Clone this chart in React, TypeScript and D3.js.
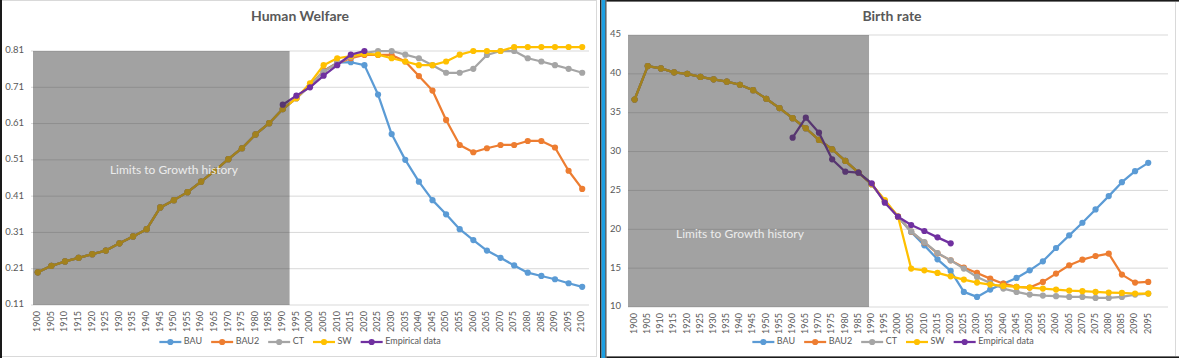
import React from 'react';
import * as d3 from 'd3';

const FONT = "Lato, 'Open Sans', 'Liberation Sans', sans-serif";

// ---------- categories ----------
const YEARS = [1900, 1905, 1910, 1915, 1920, 1925, 1930, 1935, 1940, 1945, 1950, 1955, 1960, 1965, 1970, 1975, 1980, 1985, 1990, 1995, 2000, 2005, 2010, 2015, 2020, 2025, 2030, 2035, 2040, 2045, 2050, 2055, 2060, 2065, 2070, 2075, 2080, 2085, 2090, 2095, 2100];
const HIST_YEARS = [1900, 1905, 1910, 1915, 1920, 1925, 1930, 1935, 1940, 1945, 1950, 1955, 1960, 1965, 1970, 1975, 1980, 1985, 1990];
const HW_SCEN_YEARS = [1995, 2000, 2005, 2010, 2015, 2020, 2025, 2030, 2035, 2040, 2045, 2050, 2055, 2060, 2065, 2070, 2075, 2080, 2085, 2090, 2095, 2100];
const BR_SCEN_YEARS = [1995, 2000, 2005, 2010, 2015, 2020, 2025, 2030, 2035, 2040, 2045, 2050, 2055, 2060, 2065, 2070, 2075, 2080, 2085, 2090, 2095];
const HW_TICK_LABELS = ["1900", "1905", "1910", "1915", "1920", "1925", "1930", "1935", "1940", "1945", "1950", "1955", "1960", "1965", "1970", "1975", "1980", "1985", "1990", "1995", "2000", "2005", "2010", "2015", "2020", "2025", "2030", "2035", "2040", "2045", "2050", "2055", "2060", "2065", "2070", "2075", "2080", "2085", "2090", "2095", "2100"];
const BR_TICK_LABELS = ["1900", "1905", "1910", "1915", "1920", "1925", "1930", "1935", "1940", "1945", "1950", "1955", "1960", "1965", "1970", "1975", "1980", "1985", "1990", "1995", "2000", "2005", "2010", "2015", "2020", "2025", "2030", "2035", "2040", "2045", "2050", "2055", "2060", "2065", "2070", "2075", "2080", "2085", "2090", "2095", ""];

const SERIES_NAMES = ["BAU", "BAU2", "CT", "SW", "Empirical data"];
const SERIES_COLORS = ["#5B9BD5", "#ED7D31", "#A5A5A5", "#FFC000", "#7030A0"];

// ---------- Human Welfare ----------
const HW_TICKS = [0.11, 0.21, 0.31, 0.41, 0.51, 0.61, 0.71, 0.81];
const HW_HISTORY = [0.20, 0.218, 0.230, 0.240, 0.250, 0.260, 0.280, 0.299, 0.319, 0.379, 0.399, 0.421, 0.450, 0.480, 0.512, 0.542, 0.580, 0.611, 0.650];
const HW_BAU = [0.680, 0.715, 0.755, 0.778, 0.779, 0.771, 0.690, 0.581, 0.510, 0.450, 0.399, 0.360, 0.319, 0.289, 0.260, 0.240, 0.219, 0.199, 0.190, 0.181, 0.170, 0.160];
const HW_BAU2 = [0.680, 0.715, 0.755, 0.776, 0.790, 0.799, 0.799, 0.799, 0.781, 0.741, 0.701, 0.620, 0.551, 0.531, 0.542, 0.551, 0.551, 0.562, 0.562, 0.544, 0.480, 0.430];
const HW_CT = [0.680, 0.715, 0.753, 0.776, 0.794, 0.805, 0.810, 0.810, 0.800, 0.790, 0.771, 0.750, 0.750, 0.761, 0.799, 0.810, 0.810, 0.790, 0.781, 0.771, 0.761, 0.750];
const HW_SW = [0.680, 0.721, 0.771, 0.790, 0.796, 0.802, 0.800, 0.790, 0.781, 0.771, 0.771, 0.781, 0.800, 0.810, 0.810, 0.810, 0.821, 0.821, 0.821, 0.821, 0.821, 0.821];
const HW_EMP_YEARS = [1990, 1995, 2000, 2005, 2010, 2015, 2020];
const HW_EMP = [0.662, 0.687, 0.710, 0.742, 0.771, 0.800, 0.810];

// ---------- Birth rate ----------
const BR_TICKS = [10, 15, 20, 25, 30, 35, 40, 45];
const BR_HISTORY = [36.7, 41.0, 40.7, 40.2, 40.0, 39.6, 39.3, 39.0, 38.6, 37.9, 36.8, 35.6, 34.3, 33.0, 31.5, 30.3, 28.8, 27.3, 25.8];
const BR_BAU = [23.6, 21.6, 19.65, 17.93, 16.14, 14.64, 11.94, 11.3, 12.24, 13.0, 13.74, 14.72, 15.88, 17.59, 19.22, 20.84, 22.55, 24.27, 26.06, 27.48, 28.55];
const BR_BAU2 = [23.6, 21.6, 19.7, 18.3, 16.9, 16.0, 15.07, 14.38, 13.65, 13.0, 12.58, 12.5, 13.23, 14.3, 15.37, 16.09, 16.56, 16.86, 14.17, 13.14, 13.23];
const BR_CT = [23.6, 21.6, 19.73, 18.36, 16.95, 16.0, 14.94, 13.87, 13.1, 12.37, 11.94, 11.6, 11.47, 11.39, 11.3, 11.3, 11.17, 11.17, 11.3, 11.6, 11.73];
const BR_SW = [23.77, 21.66, 14.94, 14.72, 14.38, 13.95, 13.53, 13.14, 12.88, 12.71, 12.58, 12.5, 12.37, 12.24, 12.11, 12.03, 11.94, 11.86, 11.81, 11.73, 11.73];
const BR_EMP_YEARS = [1960, 1965, 1970, 1975, 1980, 1985, 1990, 1995, 2000, 2005, 2010, 2015, 2020];
const BR_EMP = [31.79, 34.36, 32.43, 29.0, 27.41, 27.28, 25.92, 23.42, 21.62, 20.55, 19.78, 18.96, 18.19];

type Pt = [number, number];
const zip = (xs: number[], ys: number[]): Pt[] => xs.map((x, i) => [x, ys[i]] as Pt);

function buildSeries(hist: number[], scenYears: number[], scen: number[][], empYears: number[], emp: number[]): Pt[][] {
  const out = scen.map((s) => zip(HIST_YEARS, hist).concat(zip(scenYears, s)));
  out.push(zip(empYears, emp));
  return out;
}

const measureCtx: CanvasRenderingContext2D | null =
  typeof document !== 'undefined' ? document.createElement('canvas').getContext('2d') : null;
function textW(s: string, size: number): number {
  if (!measureCtx) return s.length * size * 0.5;
  measureCtx.font = `${size}px ${FONT}`;
  return measureCtx.measureText(s).width;
}

interface Cfg {
  title: string;
  titleX: number;
  left: number;
  right: number;
  top: number;
  bottom: number;
  yDomain: [number, number];
  yTicks: number[];
  yFmt: (v: number) => string;
  tickLabels: string[];
  series: Pt[][];
  histStartPad: number;
  histEndYear: number;
  histEndFrac: number;
  noteYear: number;
  noteValue: number;
  legendCx: number;
  legendY: number;
}

function Chart({ cfg }: { cfg: Cfg }) {
  const x = d3.scaleBand<number>().domain(YEARS).range([cfg.left, cfg.right]).paddingInner(0).paddingOuter(0);
  const bw = x.bandwidth();
  const cx = (yr: number) => (x(yr) as number) + bw / 2;
  const y = d3.scaleLinear().domain(cfg.yDomain).range([cfg.bottom, cfg.top]);
  const line = d3.line<Pt>().x((d) => cx(d[0])).y((d) => y(d[1]));

  const histLeft = cfg.left + cfg.histStartPad;
  const histRight = (x(cfg.histEndYear) as number) + bw * cfg.histEndFrac;

  // legend layout
  const fs = 9;
  const lineLen = 22;
  const gapText = 2.5;
  const gapItem = 9;
  const widths = SERIES_NAMES.map((n) => lineLen + gapText + textW(n, fs));
  const total = d3.sum(widths) + gapItem * (SERIES_NAMES.length - 1);
  let lx = cfg.legendCx - total / 2;
  const legendItems = SERIES_NAMES.map((n, i) => {
    const start = lx;
    lx += widths[i] + gapItem;
    return { n, i, start };
  });

  return (
    <g fontFamily={FONT}>
      <text x={cfg.titleX} y={17} textAnchor="middle" dominantBaseline="middle" fontSize={14} fontWeight="bold" fill="#595959">
        {cfg.title}
      </text>
      {cfg.yTicks.map((t) => (
        <g key={t}>
          <line x1={cfg.left} x2={cfg.right} y1={y(t)} y2={y(t)} stroke="#d9d9d9" strokeWidth={1} />
          <text x={cfg.left - 7} y={y(t)} textAnchor="end" dominantBaseline="middle" fontSize={9.5} fill="#595959">
            {cfg.yFmt(t)}
          </text>
        </g>
      ))}
      {YEARS.map((yr, i) => (
        <text
          key={yr}
          transform={`translate(${cx(yr)},${cfg.bottom + 6}) rotate(-90)`}
          textAnchor="end"
          dominantBaseline="middle"
          fontSize={9}
          fill="#595959"
        >
          {cfg.tickLabels[i]}
        </text>
      ))}
      {cfg.series.map((s, i) => (
        <g key={i}>
          <path d={line(s) || ''} fill="none" stroke={SERIES_COLORS[i]} strokeWidth={2.25} strokeLinejoin="round" />
          {s.map((d, j) => (
            <circle key={j} cx={cx(d[0])} cy={y(d[1])} r={3.1} fill={SERIES_COLORS[i]} />
          ))}
        </g>
      ))}
      <rect
        x={histLeft}
        y={cfg.top}
        width={histRight - histLeft}
        height={cfg.bottom - cfg.top}
        fill="#3c3c3c"
        fillOpacity={0.48}
      />
      <text
        x={cx(cfg.noteYear)}
        y={y(cfg.noteValue)}
        textAnchor="middle"
        dominantBaseline="middle"
        fontSize={12}
        fill="#ececec"
      >
        Limits to Growth history
      </text>
      {legendItems.map(({ n, i, start }) => (
        <g key={n}>
          <line x1={start} x2={start + lineLen} y1={cfg.legendY} y2={cfg.legendY} stroke={SERIES_COLORS[i]} strokeWidth={2.25} />
          <circle cx={start + lineLen / 2} cy={cfg.legendY} r={3.1} fill={SERIES_COLORS[i]} />
          <text x={start + lineLen + gapText} y={cfg.legendY} dominantBaseline="middle" fontSize={fs} fill="#595959">
            {n}
          </text>
        </g>
      ))}
    </g>
  );
}

export default function App() {
  const hw: Cfg = {
    title: 'Human Welfare',
    titleX: 300,
    left: 31,
    right: 589,
    top: 51,
    bottom: 305,
    yDomain: [0.11, 0.81],
    yTicks: HW_TICKS,
    yFmt: (v) => v.toFixed(2),
    tickLabels: HW_TICK_LABELS,
    series: buildSeries(HW_HISTORY, HW_SCEN_YEARS, [HW_BAU, HW_BAU2, HW_CT, HW_SW], HW_EMP_YEARS, HW_EMP),
    histStartPad: 2,
    histEndYear: 1995,
    histEndFrac: 0,
    noteYear: 1950,
    noteValue: 0.479,
    legendCx: 300,
    legendY: 342,
  };
  const br: Cfg = {
    title: 'Birth rate',
    titleX: 892,
    left: 628,
    right: 1168,
    top: 35,
    bottom: 307,
    yDomain: [10, 45],
    yTicks: BR_TICKS,
    yFmt: (v) => String(v),
    tickLabels: BR_TICK_LABELS,
    series: buildSeries(BR_HISTORY, BR_SCEN_YEARS, [BR_BAU, BR_BAU2, BR_CT, BR_SW], BR_EMP_YEARS, BR_EMP),
    histStartPad: 0,
    histEndYear: 1990,
    histEndFrac: 0.3,
    noteYear: 1940,
    noteValue: 19.3,
    legendCx: 893,
    legendY: 342,
  };
  return (
    <>
      <style>{'body{margin:0;} svg{display:block;}'}</style>
      <svg width={1179} height={358} viewBox="0 0 1179 358">
        <rect x={0} y={0} width={1179} height={358} fill="#ffffff" />
        {/* left panel frame */}
        <rect x={0.5} y={0.5} width={596} height={356} fill="#ffffff" stroke="#d9d9d9" strokeWidth={1} />
        <rect x={0} y={0} width={2} height={358} fill="#1a1a1a" />
        {/* separator */}
        <rect x={600} y={0} width={1.6} height={358} fill="#222222" />
        <rect x={601.6} y={0} width={3.8} height={358} fill="#1c9fe2" />
        <rect x={605.4} y={0} width={1} height={358} fill="#222222" />
        {/* right panel frame */}
        <rect x={606.4} y={0} width={572.6} height={1.6} fill="#1a1a1a" />
        <rect x={606.4} y={356.4} width={572.6} height={1.6} fill="#1a1a1a" />
        <line x1={1175.5} x2={1175.5} y1={2} y2={356} stroke="#d9d9d9" strokeWidth={1} />
        <Chart cfg={hw} />
        <Chart cfg={br} />
      </svg>
    </>
  );
}
